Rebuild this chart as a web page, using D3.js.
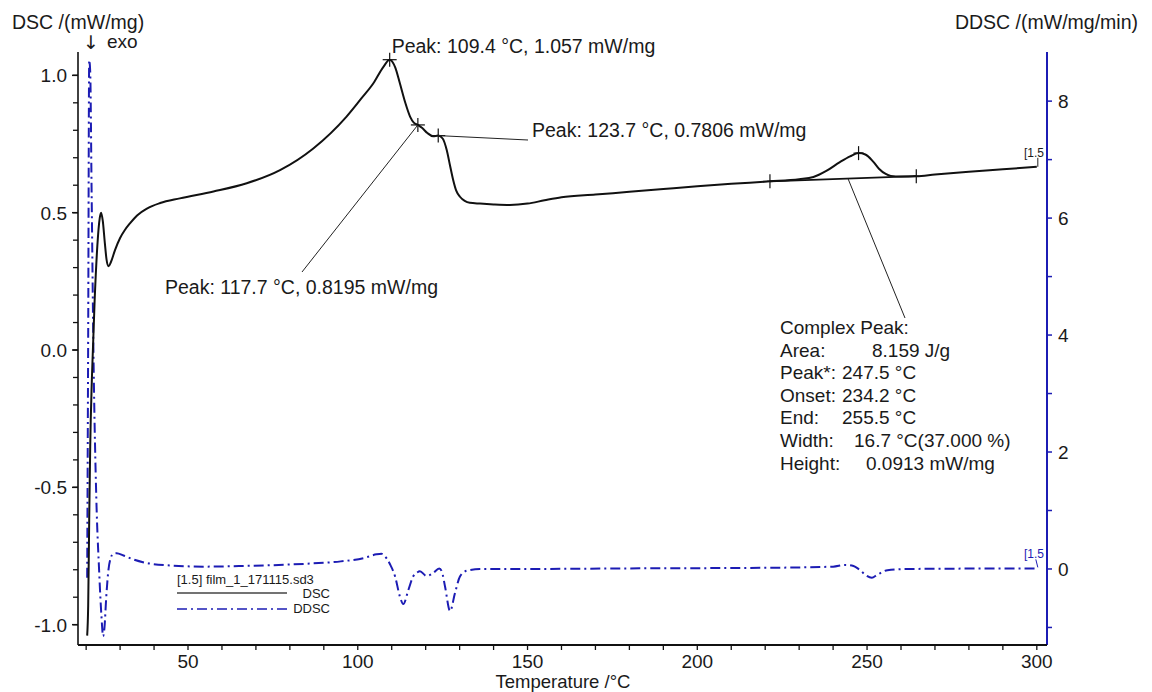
<!DOCTYPE html>
<html>
<head>
<meta charset="utf-8">
<script src="https://cdn.jsdelivr.net/npm/d3@7/dist/d3.min.js"></script>
<style>
  html, body { margin: 0; padding: 0; background: #fff; }
  svg { display: block; font-family: "Liberation Sans", Arial, sans-serif; }
  text { fill: #1a1a1a; }
</style>
</head>
<body>
<svg id="chart" width="1152" height="692"></svg>
<script>
// DSC signal: temperature (°C) and heat flow (mW/mg)
const dscTemp = [20.3, 20.6, 20.9, 21.2, 21.7, 22.5, 23.3, 24.0, 24.4, 24.9, 25.5, 26.0, 26.6, 27.3, 28.5,
  30.0, 31.4, 32.9, 35.0, 37.9, 41.8, 47.6, 57.5, 67.3, 77.1, 86.9, 96.7, 101.0, 104.6, 107.5, 109.4,
  111.0, 112.4, 114.0, 115.4, 116.5, 117.7, 119.0, 120.5, 122.2, 123.7, 125.0, 126.2, 127.2, 128.1,
  129.0, 130.1, 131.5, 133.0, 136.0, 140.0, 144.8, 150.0, 155.0, 160.0, 170.0, 180.0, 190.0, 200.0,
  210.0, 221.4, 230.0, 234.2, 238.0, 242.0, 245.0, 247.5, 249.5, 251.8, 253.5, 255.5, 257.0, 260.0,
  264.5, 270.0, 280.0, 290.0, 300.0];
const dscValue = [-1.04, -0.93, -0.62, -0.35, -0.1, 0.18, 0.38, 0.48, 0.5, 0.47, 0.39, 0.33, 0.305, 0.3205, 0.364,
  0.408, 0.437, 0.461, 0.49, 0.515, 0.535, 0.552, 0.577, 0.607, 0.655, 0.734, 0.85, 0.915, 0.971, 1.03, 1.057,
  1.03, 0.971, 0.9, 0.85, 0.828, 0.8195, 0.808, 0.79, 0.778, 0.7806, 0.77, 0.728, 0.67, 0.619,
  0.58, 0.558, 0.543, 0.536, 0.533, 0.53, 0.528, 0.533, 0.545, 0.556, 0.566, 0.576, 0.586, 0.596,
  0.605, 0.614, 0.622, 0.63, 0.652, 0.684, 0.705, 0.717, 0.712, 0.686, 0.66, 0.641, 0.634, 0.632,
  0.633, 0.639, 0.649, 0.658, 0.667];

// DDSC signal: first derivative (mW/mg/min)
const ddscTemp = [20.3, 20.6, 20.9, 21.2, 21.6, 22.2, 23.0, 23.8, 24.5, 25.0, 25.4, 25.9, 26.5, 27.2, 28.0,
  29.0, 31.0, 34.0, 38.0, 45.0, 55.0, 65.0, 75.0, 85.0, 95.0, 102.0, 105.5, 107.0, 108.5, 109.5, 111.0,
  112.4, 113.4, 114.9, 116.3, 117.5, 118.3, 120.3, 122.2, 124.0, 124.8, 125.7, 127.2, 128.6, 130.1,
  132.1, 136.0, 150.0, 180.0, 220.0, 240.0, 243.5, 246.0, 247.5, 249.5, 251.4, 253.0, 256.0, 262.0, 300.0];
const ddscValue = [-0.15, 4.0, 8.7, 8.5, 6.5, 3.5, 1.2, 0.0, -0.8, -1.15, -1.0, -0.5, -0.05, 0.18, 0.26,
  0.27, 0.23, 0.16, 0.1, 0.06, 0.04, 0.05, 0.065, 0.09, 0.13, 0.19, 0.25, 0.26, 0.18, 0.08, -0.13,
  -0.47, -0.6, -0.36, -0.13, -0.06, -0.04, -0.12, -0.07, 0.01, -0.05, -0.3, -0.72, -0.42, -0.13,
  -0.03, 0.0, 0.0, 0.01, 0.02, 0.04, 0.07, 0.05, 0.0, -0.1, -0.15, -0.1, -0.02, 0.0, 0.01];

// Axis ticks
const tempTicks = [50, 100, 150, 200, 250, 300];
const dscTicks = [-1.0, -0.5, 0.0, 0.5, 1.0];
const ddscTicks = [0, 2, 4, 6, 8];

// Evaluated peaks: [temperature, heat flow]
const peakTemp = [109.4, 117.7, 123.7];
const peakValue = [1.057, 0.8195, 0.7806];
const peakLabels = ["Peak: 109.4 °C, 1.057 mW/mg", "Peak: 117.7 °C, 0.8195 mW/mg", "Peak: 123.7 °C, 0.7806 mW/mg"];

// Complex peak evaluation (baseline limits, peak point, result table)
const complexLimitsTemp = [221.4, 264.5];
const complexLimitsValue = [0.614, 0.633];
const complexPeakTemp = 247.5;
const complexPeakHeight = 0.0913;
const complexRows = [
  ["Complex Peak:", ""],
  ["Area:", "8.159 J/g"],
  ["Peak*:", "247.5 °C"],
  ["Onset:", "234.2 °C"],
  ["End:", "255.5 °C"],
  ["Width:", "16.7 °C(37.000 %)"],
  ["Height:", "0.0913 mW/mg"]
];
const complexValueX = [0, 872, 842, 842, 842, 854, 866];

(function drawChart() {
  const svg = d3.select("#chart");
  const pLeft = 78, pRight = 1047, pTop = 52, pBottom = 645;
  const blue = "#1c1cb4";
  const fs = 19;

  const x = d3.scaleLinear().domain([17.6, 303.0]).range([pLeft, pRight]);
  const yL = d3.scaleLinear().domain([-1.074, 1.085]).range([pBottom, pTop]);
  const yR = d3.scaleLinear().domain([-1.3, 8.84]).range([pBottom, pTop]);

  const fmt1 = v => v.toFixed(1);

  // Left axis (DSC)
  const gL = svg.append("g").attr("transform", `translate(${pLeft},0)`);
  gL.append("line").attr("x1", 0).attr("x2", 0).attr("y1", pTop).attr("y2", pBottom)
    .attr("stroke", "#111").attr("stroke-width", 1.6);
  d3.range(-10, 11).map(i => i / 10).forEach(v => {
    gL.append("line").attr("x1", 0).attr("x2", -5).attr("y1", yL(v)).attr("y2", yL(v))
      .attr("stroke", "#111").attr("stroke-width", 1.3);
  });
  dscTicks.forEach(v => {
    gL.append("line").attr("x1", 0).attr("x2", -6).attr("y1", yL(v)).attr("y2", yL(v))
      .attr("stroke", "#111").attr("stroke-width", 1.5);
    gL.append("text").attr("x", -11).attr("y", yL(v) + 7).attr("text-anchor", "end")
      .attr("font-size", fs).text(fmt1(v));
  });

  // Right axis (DDSC)
  const gR = svg.append("g").attr("transform", `translate(${pRight},0)`);
  gR.append("line").attr("x1", 0).attr("x2", 0).attr("y1", pTop).attr("y2", pBottom)
    .attr("stroke", blue).attr("stroke-width", 2);
  d3.range(-1, 9).forEach(v => {
    gR.append("line").attr("x1", 0).attr("x2", 5).attr("y1", yR(v)).attr("y2", yR(v))
      .attr("stroke", blue).attr("stroke-width", 1.5);
  });
  ddscTicks.forEach(v => {
    gR.append("text").attr("x", 11).attr("y", yR(v) + 7).attr("text-anchor", "start")
      .attr("font-size", fs).text(String(v));
  });

  // Bottom axis (temperature)
  const gB = svg.append("g").attr("transform", `translate(0,${pBottom})`);
  gB.append("line").attr("x1", pLeft).attr("x2", pRight).attr("y1", 0).attr("y2", 0)
    .attr("stroke", "#111").attr("stroke-width", 1.8);
  d3.range(20, 301, 10).forEach(t => {
    gB.append("line").attr("x1", x(t)).attr("x2", x(t)).attr("y1", 0).attr("y2", 5)
      .attr("stroke", "#111").attr("stroke-width", 1.3);
  });
  tempTicks.forEach(t => {
    gB.append("text").attr("x", x(t)).attr("y", 23).attr("text-anchor", "middle")
      .attr("font-size", fs).text(String(t));
  });

  // Axis titles
  svg.append("text").attr("x", 12).attr("y", 29).attr("font-size", 19.5).text("DSC /(mW/mg)");
  svg.append("text").attr("x", 1138).attr("y", 29).attr("text-anchor", "end").attr("font-size", 19.5).text("DDSC /(mW/mg/min)");
  svg.append("text").attr("x", 83).attr("y", 49).attr("font-size", 19)
    .style("font-family", "'DejaVu Sans', sans-serif").text("↓");
  svg.append("text").attr("x", 107).attr("y", 48).attr("font-size", fs).text("exo");
  svg.append("text").attr("x", 563).attr("y", 688).attr("text-anchor", "middle").attr("font-size", 18.5).text("Temperature /°C");

  // Curves
  const dscData = dscTemp.map((t, i) => [t, dscValue[i]]);
  const ddscData = ddscTemp.map((t, i) => [t, ddscValue[i]]);

  const dscLine = d3.line().x(d => x(d[0])).y(d => yL(d[1])).curve(d3.curveMonotoneX);
  const ddscLine = d3.line().x(d => x(d[0])).y(d => yR(d[1])).curve(d3.curveMonotoneX);

  svg.append("path").datum(ddscData).attr("d", ddscLine)
    .attr("fill", "none").attr("stroke", blue).attr("stroke-width", 2)
    .attr("stroke-dasharray", "10,4,2,4");

  svg.append("path").datum(dscData).attr("d", dscLine)
    .attr("fill", "none").attr("stroke", "#111").attr("stroke-width", 2);

  // Complex peak integration baseline
  svg.append("line")
    .attr("x1", x(complexLimitsTemp[0])).attr("y1", yL(complexLimitsValue[0]))
    .attr("x2", x(complexLimitsTemp[1])).attr("y2", yL(complexLimitsValue[1]))
    .attr("stroke", "#111").attr("stroke-width", 1.6);

  // Cross markers
  function cross(cx, cy, w, h) {
    svg.append("line").attr("x1", cx - w).attr("x2", cx + w).attr("y1", cy).attr("y2", cy)
      .attr("stroke", "#111").attr("stroke-width", 1.2);
    svg.append("line").attr("x1", cx).attr("x2", cx).attr("y1", cy - h).attr("y2", cy + h)
      .attr("stroke", "#111").attr("stroke-width", 1.2);
  }
  peakTemp.forEach((t, i) => cross(x(t), yL(peakValue[i]), 7, 7));
  complexLimitsTemp.forEach((t, i) => cross(x(t), yL(complexLimitsValue[i]), 3, 7));
  const baseAtPeak = complexLimitsValue[0] + (complexPeakTemp - complexLimitsTemp[0]) /
    (complexLimitsTemp[1] - complexLimitsTemp[0]) * (complexLimitsValue[1] - complexLimitsValue[0]);
  cross(x(complexPeakTemp), yL(baseAtPeak + complexPeakHeight), 5, 7);

  // Peak labels and leader lines
  const leader = (x1, y1, x2, y2) => svg.append("line")
    .attr("x1", x1).attr("y1", y1).attr("x2", x2).attr("y2", y2)
    .attr("stroke", "#222").attr("stroke-width", 1);

  svg.append("text").attr("x", x(peakTemp[0]) + 2).attr("y", 53).attr("font-size", 19.5).text(peakLabels[0]);

  leader(x(peakTemp[1]), yL(peakValue[1]), 302, 272);
  svg.append("text").attr("x", 165).attr("y", 294).attr("font-size", 19.5).text(peakLabels[1]);

  leader(x(peakTemp[2]), yL(peakValue[2]), 528, 140);
  svg.append("text").attr("x", 532).attr("y", 137).attr("font-size", 19.5).text(peakLabels[2]);

  // Complex peak leader and result table
  leader(848, yL(0.624), 905, 318);
  complexRows.forEach((r, i) => {
    const yy = 334 + i * 22.6;
    svg.append("text").attr("x", 780).attr("y", yy).attr("font-size", fs).text(r[0]);
    if (r[1]) svg.append("text").attr("x", complexValueX[i]).attr("y", yy).attr("font-size", fs).text(r[1]);
  });

  // Curve end tags
  const dscEnd = dscData[dscData.length - 1];
  const ddscEnd = ddscData[ddscData.length - 1];
  svg.append("line").attr("x1", x(dscEnd[0]) + 1).attr("x2", x(dscEnd[0]) + 1)
    .attr("y1", yL(dscEnd[1])).attr("y2", yL(dscEnd[1]) - 9).attr("stroke", "#222").attr("stroke-width", 1);
  svg.append("text").attr("x", 1024).attr("y", 157).attr("font-size", 12).text("[1.5");
  svg.append("line").attr("x1", x(ddscEnd[0]) - 1).attr("x2", x(ddscEnd[0]) + 1)
    .attr("y1", yR(ddscEnd[1]) - 9).attr("y2", yR(ddscEnd[1]) - 1).attr("stroke", blue).attr("stroke-width", 1);
  svg.append("text").attr("x", 1024).attr("y", 558).attr("font-size", 12)
    .style("fill", blue).text("[1.5");

  // Legend
  const lg = svg.append("g");
  lg.append("text").attr("x", 177).attr("y", 584).attr("font-size", 13).text("[1.5] film_1_171115.sd3");
  lg.append("line").attr("x1", 177).attr("x2", 287).attr("y1", 593).attr("y2", 593)
    .attr("stroke", "#444").attr("stroke-width", 1.3);
  lg.append("text").attr("x", 330).attr("y", 598).attr("text-anchor", "end").attr("font-size", 13).text("DSC");
  lg.append("line").attr("x1", 177).attr("x2", 287).attr("y1", 609).attr("y2", 609)
    .attr("stroke", blue).attr("stroke-width", 1.3).attr("stroke-dasharray", "10,4,2,4");
  lg.append("text").attr("x", 330).attr("y", 613).attr("text-anchor", "end").attr("font-size", 13).text("DDSC");
})();
</script>
</body>
</html>
